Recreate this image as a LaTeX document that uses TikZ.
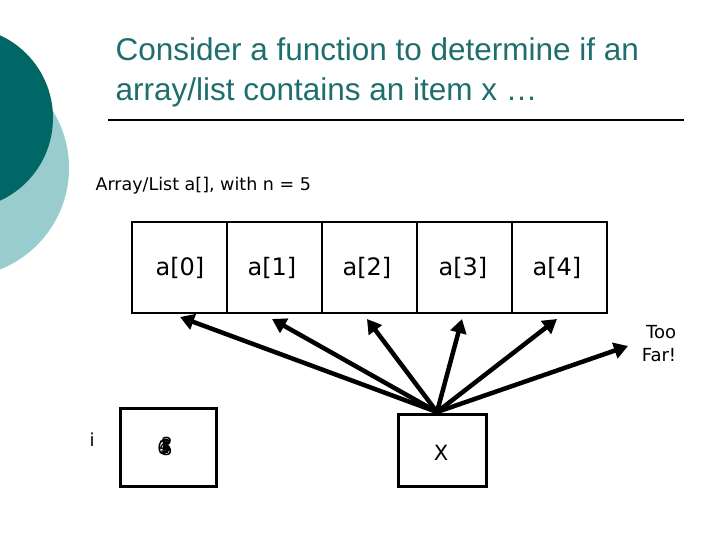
\documentclass[tikz,border=0pt]{standalone}
\usepackage{fontspec}
\setmainfont{DejaVu Sans}
\newfontfamily\titlefont{Liberation Sans}
\usetikzlibrary{arrows.meta}
\definecolor{teal1}{HTML}{006666}
\definecolor{teal2}{HTML}{99CCCC}
\definecolor{titlec}{HTML}{1F6E6E}
\begin{document}
\begin{tikzpicture}[x=1pt,y=-1pt,
  arr/.style={line width=4.5pt,-{Triangle[length=14pt,width=16pt]}},
  cell/.style={font=\fontsize{24}{28}\selectfont}]
\useasboundingbox (0,0) rectangle (720,540);
\clip (0,0) rectangle (720,540);
\fill[teal2] (-40,168) circle (109);
\fill[teal1] (-38,118) circle (91);
\node[anchor=west,align=left,text=titlec,font=\titlefont\fontsize{31.5}{40}\selectfont] (title) at (112,72) {Consider a function to determine if an\\array/list contains an item x …};
\draw[line width=1.2pt] (108,120) -- (684,120);
\node[anchor=west,font=\fontsize{17.5}{20}\selectfont] (lbl) at (92,186) {Array/List a[], with n = 5};
\draw[line width=2.5pt] (132,222) rectangle (607,313);
\foreach \xx in {227,322,417,512} \draw[line width=2.5pt] (\xx,222) -- (\xx,313);
\node[cell] (c0) at (180,268) {a[0]};
\node[cell] (c1) at (272,268) {a[1]};
\node[cell] (c2) at (367,268) {a[2]};
\node[cell] (c3) at (463,268) {a[3]};
\node[cell] (c4) at (557,268) {a[4]};
\node[align=right,font=\fontsize{18}{23}\selectfont] (far) at (659,344) {Too\\Far!};
\draw[line width=3pt] (398,414) rectangle (486,486);
\node[font=\fontsize{21}{24}\selectfont] (x) at (441,453) {X};
\coordinate (xt) at (437,412);
\coordinate (p0) at (180,317);
\coordinate (p1) at (272,319);
\coordinate (p2) at (367,319);
\coordinate (p3) at (462,319);
\coordinate (p4) at (557,319);
\coordinate (p5) at (628,346);
\foreach \p in {p0,p1,p2,p3,p4,p5} \draw[arr] (xt) -- (\p);
\draw[line width=3pt] (120,408) rectangle (216,486);
\node[font=\fontsize{18}{20}\selectfont] (i) at (92,440) {i};
\foreach \d/\dx/\dy in {0/-3/2,1/-2/1,2/1/-2,3/0/0,4/-1/0,5/1/3} \node[font=\fontsize{18}{20}\selectfont] at (166+\dx,446+\dy) {\d};
\end{tikzpicture}
\end{document}
